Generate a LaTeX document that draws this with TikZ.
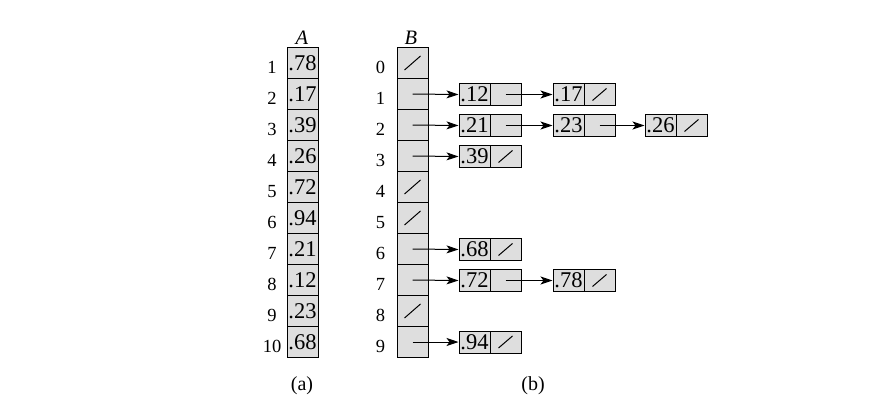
\documentclass[tikz,border=0pt]{standalone}
\usepackage{fontspec}
\setmainfont{Liberation Serif}
\usetikzlibrary{arrows.meta}
\definecolor{cellgray}{RGB}{222,222,222}
\newcommand\listcell[4]{%
  \node[half] (#1k) at ({#2+15.5},#3) {#4};
  \node[half] (#1n) at ({#2+46.5},#3) {};
}
\newcommand\nilmark[3]{%
  \draw[nil] ([shift={(-#2,#3)}]#1.center) -- ([shift={(#2,-#3)}]#1.center);
}
\begin{document}
\begin{tikzpicture}[x=1pt,y=-1pt,
  cell/.style={draw, fill=cellgray, minimum width=31pt, minimum height=31pt, inner sep=0pt, line width=1pt, font=\fontsize{22.5}{22.5}\selectfont},
  half/.style={draw, fill=cellgray, minimum width=31pt, minimum height=22pt, inner sep=0pt, line width=1pt, font=\fontsize{22.5}{22.5}\selectfont},
  idx/.style={font=\fontsize{18.5}{18.5}\selectfont, anchor=base, inner sep=0pt},
  head/.style={font=\fontsize{20.5}{20.5}\selectfont\itshape, anchor=base, inner sep=0pt},
  capt/.style={font=\fontsize{20}{20}\selectfont, anchor=base, inner sep=0pt},
  ptr/.style={line width=1pt, -{Stealth[length=12pt,width=8pt,inset=3pt]}},
  nil/.style={line width=1pt}]
\useasboundingbox (0,0) rectangle (893,410);
% array A
\foreach \v [count=\i] in {.78,.17,.39,.26,.72,.94,.21,.12,.23,.68} {
  \node[cell] (A\i) at (302.5,{63+31*(\i-1)}) {\v};
  \node[idx] (ai\i) at (272,{73+31*(\i-1)}) {\i};
}
% array B
\foreach \i in {0,...,9} {
  \node[cell] (B\i) at (412.5,{63+31*\i}) {};
  \node[idx] (bi\i) at (380.5,{73+31*\i}) {\i};
}
\foreach \i in {0,4,5,8} { \nilmark{B\i}{8}{7} }
\node[head] (hA) at (302,44) {A};
\node[head] (hB) at (411,44) {B};
% lists
\listcell{p1a}{459}{94.5}{.12}
\listcell{p1b}{553}{94.5}{.17}
\listcell{p2a}{459}{125.5}{.21}
\listcell{p2b}{553}{125.5}{.23}
\listcell{p2c}{645}{125.5}{.26}
\listcell{p3a}{459}{156.5}{.39}
\listcell{p6a}{459}{249.5}{.68}
\listcell{p7a}{459}{280.5}{.72}
\listcell{p7b}{553}{280.5}{.78}
\listcell{p9a}{459}{342}{.94}
\foreach \n in {p1bn,p2cn,p3an,p6an,p7bn,p9an} { \nilmark{\n}{7}{6} }
% pointers
\draw[ptr] (B1.center) -- (p1ak.west);
\draw[ptr] (B2.center) -- (p2ak.west);
\draw[ptr] (B3.center) -- (p3ak.west);
\draw[ptr] (B6.center) -- (p6ak.west);
\draw[ptr] (B7.center) -- (p7ak.west);
\draw[ptr] (B9.center) -- (p9ak.west);
\draw[ptr] (p1an.center) -- (p1bk.west);
\draw[ptr] (p2an.center) -- (p2bk.west);
\draw[ptr] (p2bn.center) -- (p2ck.west);
\draw[ptr] (p7an.center) -- (p7bk.west);
% captions
\node[capt] (ca) at (302,390) {(a)};
\node[capt] (cb) at (533,390) {(b)};
\end{tikzpicture}
\end{document}
